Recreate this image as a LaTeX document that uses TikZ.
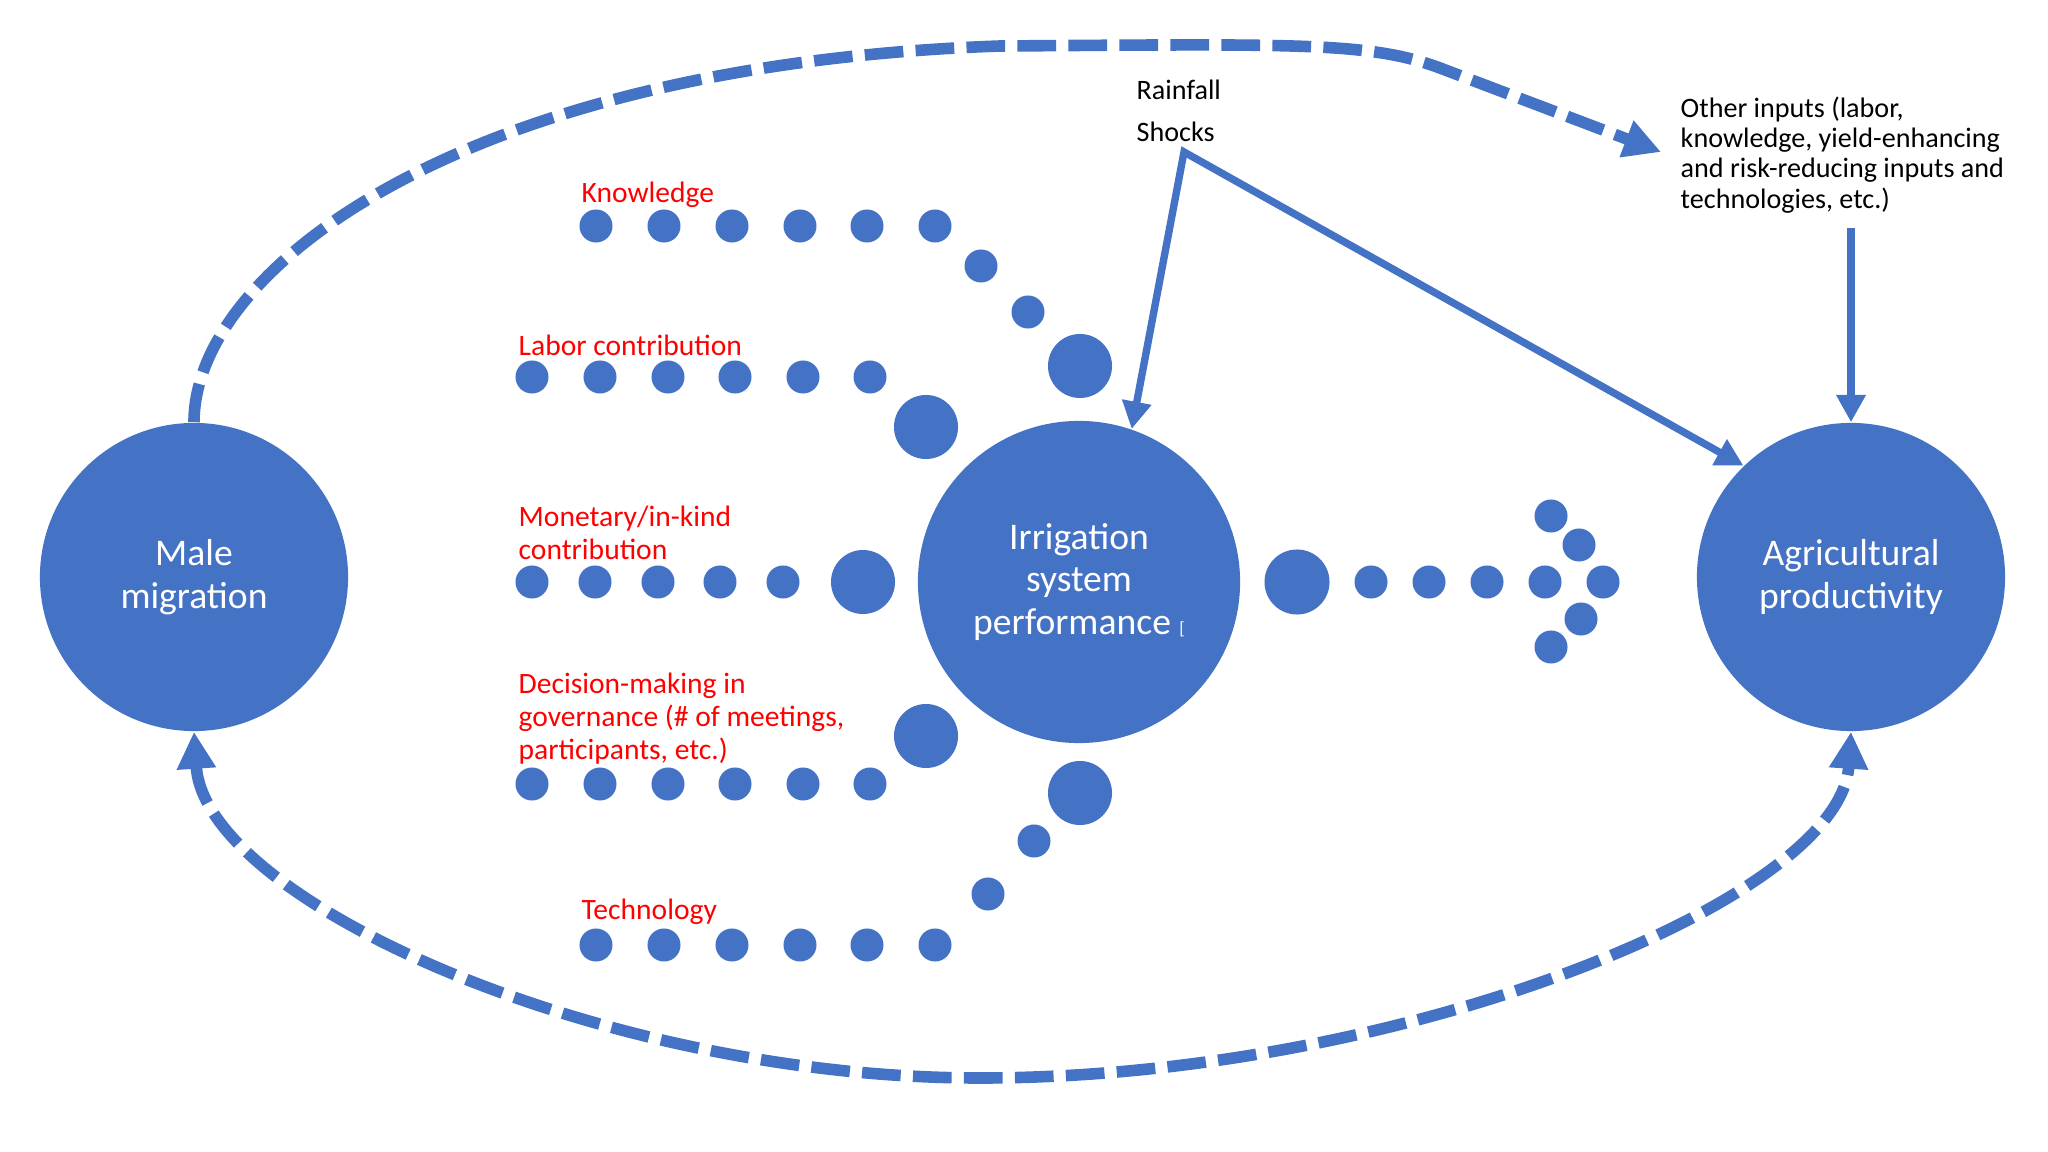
\documentclass[tikz,border=0pt]{standalone}
\usepackage{fontspec}
\setmainfont{Carlito}
\usepackage{xcolor}
\usetikzlibrary{arrows.meta,positioning}

\definecolor{nodeblue}{HTML}{4472C4}
\definecolor{labelred}{HTML}{FF0000}

\begin{document}
\begin{tikzpicture}[x=0.01cm, y=-0.01cm,
  bigcircle/.style={circle, fill=nodeblue, text=white, inner sep=0pt, minimum size=3.08cm, align=center, font=\fontsize{10.7}{12.2}\selectfont},
  smalldot/.style={circle, fill=nodeblue, inner sep=0pt, minimum size=0.33cm},
  bigdot/.style={circle, fill=nodeblue, inner sep=0pt, minimum size=0.64cm},
  redlabel/.style={anchor=west, inner sep=0pt, align=left, text=labelred, font=\fontsize{8.4}{9.4}\selectfont},
  blacklabel/.style={anchor=west, inner sep=0pt, align=left, font=\fontsize{8}{8.6}\selectfont},
  dasharc/.style={nodeblue, line width=3.3pt, dash pattern=on 11pt off 3.5pt, >={Triangle[length=10.5pt,width=10.5pt]}},
  solidarrow/.style={nodeblue, line width=2.1pt, >={Triangle[length=7.8pt,width=8pt]}}]

\useasboundingbox (0,0) rectangle (2048,1152);
\fill[white] (0,0) rectangle (2048,1152);

% Main circles
\node[bigcircle] (male) at (194,577) {Male\\migration};
\node[bigcircle, minimum size=3.22cm] (irr) at (1079,582) {Irrigation\\system\\performance {\fontsize{5}{5}\selectfont[}};
\node[bigcircle] (agr) at (1851,577) {Agricultural\\productivity};

% Labels of the channels
\node[redlabel] (knw) at (581,195) {Knowledge};
\node[redlabel] (lab) at (518,345) {Labor contribution};
\node[redlabel] (mon) at (518,533) {Monetary/in-kind\\contribution};
\node[redlabel] (dec) at (518,719) {Decision-making in\\governance (\# of meetings,\\participants, etc.)};
\node[redlabel] (tec) at (581,912) {Technology};

% Other labels
\node[blacklabel] (rain) at (1136,90) {Rainfall};
\node[blacklabel, below=12pt of rain.west, anchor=west] (shock) {Shocks};
\node[blacklabel] (oth) at (1680,155) {Other inputs (labor,\\knowledge, yield-enhancing\\and risk-reducing inputs and\\technologies, etc.)};

% Knowledge chain
\foreach \x [count=\i] in {596,664,732,800,867,935}
  \node[smalldot] (k\i) at (\x,226) {};
\node[smalldot] (k7) at (981,266) {};
\node[smalldot] (k8) at (1028,312) {};
\node[bigdot] (k9) at (1080,366) {};

% Labor chain
\foreach \x [count=\i] in {532,600,668,735,803,870}
  \node[smalldot] (l\i) at (\x,377) {};
\node[bigdot] (l7) at (926,427) {};

% Monetary chain
\foreach \x [count=\i] in {532,595,658,720,783}
  \node[smalldot] (m\i) at (\x,582) {};
\node[bigdot] (m6) at (863,582) {};

% Decision chain
\foreach \x [count=\i] in {532,600,668,735,803,870}
  \node[smalldot] (d\i) at (\x,784) {};
\node[bigdot] (d7) at (926,736) {};

% Technology chain
\foreach \x [count=\i] in {596,664,732,800,867,935}
  \node[smalldot] (t\i) at (\x,945) {};
\node[smalldot] (t7) at (988,894) {};
\node[smalldot] (t8) at (1034,841) {};
\node[bigdot] (t9) at (1080,793) {};

% Output chain
\node[bigdot, minimum size=0.65cm] (o0) at (1297,582) {};
\foreach \x [count=\i] in {1371,1429,1487,1545,1603}
  \node[smalldot] (o\i) at (\x,582) {};
\node[smalldot] (o6) at (1551,516) {};
\node[smalldot] (o7) at (1579,545) {};
\node[smalldot] (o8) at (1581,619) {};
\node[smalldot] (o9) at (1551,647) {};

% Shocks arrows
\coordinate (shk) at (1184,152);
\draw[solidarrow, <->] (irr.71) -- (shk) -- (agr.134);

% Other inputs arrow
\draw[solidarrow, ->, shorten <=4pt] (oth.south -| agr.north) -- (agr.north);

% Dashed feedback arcs
\coordinate (othin) at (1661,152);
\draw[dasharc, ->] (male.north) .. controls (194,270) and (460,65) .. (1000,46)
  .. controls (1300,44) and (1370,42) .. (1440,68) -- (othin);
\draw[dasharc, <->] (male.south) .. controls (205,900) and (600,1078) .. (980,1078)
  .. controls (1400,1078) and (1840,900) .. (agr.south);
\end{tikzpicture}
\end{document}
